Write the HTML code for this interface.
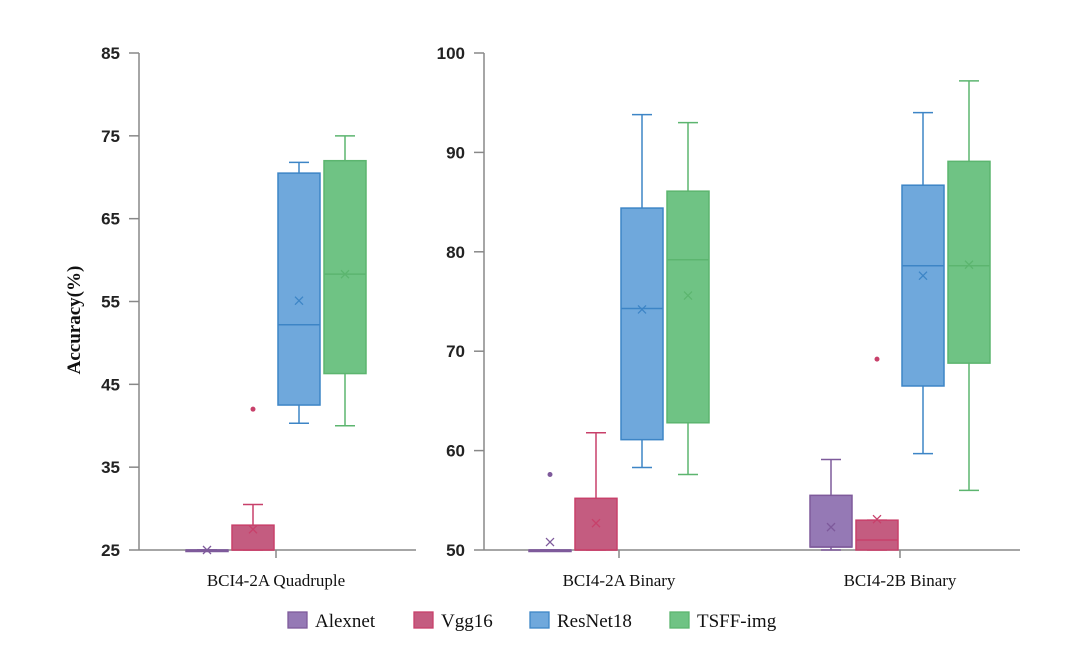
<!DOCTYPE html>
<html><head><meta charset="utf-8">
<style>
html,body{margin:0;padding:0;background:#fff;}
svg{display:block;font-family:"Liberation Serif",serif;}
</style></head>
<body>
<svg id="chart" width="1080" height="647" viewBox="0 0 1080 647"></svg>
<script>
const models = ["Alexnet","Vgg16","ResNet18","TSFF-img"];
const fills = ["#9579b5","#c45c80","#6fa8dc","#6fc384"];
const strokes = ["#7e5a9b","#c8406a","#3d85c6","#5cb56f"];
const leftCategories = ["BCI4-2A Quadruple"];
const rightCategories = ["BCI4-2A Binary","BCI4-2B Binary"];
const leftTicks = [25,35,45,55,65,75,85];
const rightTicks = [50,60,70,80,90,100];
// [min, q1, median, q3, max, mean]
const leftStats = [
 [[25,25,25,25,25,25],[25,25,25,28,30.5,27.5],[40.3,42.5,52.2,70.5,71.8,55.1],[40,46.3,58.3,72,75,58.3]]
];
const leftOutliers = [[[],[42],[],[]]];
const rightStats = [
 [[50,50,50,50,50,50.8],[50,50,50,55.2,61.8,52.7],[58.3,61.1,74.3,84.4,93.8,74.2],[57.6,62.8,79.2,86.1,93.0,75.6]],
 [[50,50.3,50.3,55.5,59.1,52.3],[50,50,51,53,53,53.1],[59.7,66.5,78.6,86.7,94,77.6],[56,68.8,78.6,89.1,97.2,78.7]]
];
const rightOutliers = [[[57.6],[],[],[]],[[],[69.2],[],[]]];

const svg = document.getElementById('chart');
const NS = "http://www.w3.org/2000/svg";
function mk(tag, attrs, parent){const e=document.createElementNS(NS,tag);for(const k in attrs)e.setAttribute(k,attrs[k]);(parent||svg).appendChild(e);return e;}

const yTop=53, yBot=550;
function yLeft(v){return yBot-(v-25)/(85-25)*(yBot-yTop);}
function yRight(v){return yBot-(v-50)/(100-50)*(yBot-yTop);}

function drawPanel(axisX, xEnd, cats, centers, ticks, yf, stats, outliers, name){
  const g = mk('g',{});
  
  
  const ax = mk('line',{x1:axisX,y1:yTop,x2:axisX,y2:yBot,stroke:'#888','stroke-width':1.5},g);
  
  
  const bx = mk('line',{x1:axisX,y1:yBot,x2:xEnd,y2:yBot,stroke:'#888','stroke-width':1.5},g);
  
  
  ticks.forEach(t=>{
    const y=yf(t);
    mk('line',{x1:axisX-10,y1:y,x2:axisX,y2:y,stroke:'#888','stroke-width':1.5},g);
    const tx = mk('text',{x:axisX-19,y:y+6,'text-anchor':'end','font-size':17,'font-weight':'bold','font-family':'"Liberation Sans",sans-serif',fill:'#222'},g);
    tx.textContent=t;
    
    
  });
  cats.forEach((c,ci)=>{
    const cx=centers[ci];
    mk('line',{x1:cx,y1:yBot,x2:cx,y2:yBot+8,stroke:'#888','stroke-width':1.5},g);
    const lab = mk('text',{x:cx,y:yBot+36,'text-anchor':'middle','font-size':17,fill:'#111'},g);
    lab.textContent=c;
    
    
    stats[ci].forEach((s,mi)=>{
      const bxc = cx-69+mi*46, w=42;
      const bg = mk('g',{},g);
      
      
      const [mn,q1,md,q3,mx,mean]=s;
      mk('line',{x1:bxc,y1:yf(q3),x2:bxc,y2:yf(mx),stroke:strokes[mi],'stroke-width':1.5},bg);
      mk('line',{x1:bxc,y1:yf(q1),x2:bxc,y2:yf(mn),stroke:strokes[mi],'stroke-width':1.5},bg);
      mk('line',{x1:bxc-10,y1:yf(mx),x2:bxc+10,y2:yf(mx),stroke:strokes[mi],'stroke-width':1.5},bg);
      mk('line',{x1:bxc-10,y1:yf(mn),x2:bxc+10,y2:yf(mn),stroke:strokes[mi],'stroke-width':1.5},bg);
      const h=Math.max(yf(q1)-yf(q3),1.5);
      mk('rect',{x:bxc-w/2,y:yf(q3),width:w,height:h,fill:fills[mi],stroke:strokes[mi],'stroke-width':1.5},bg);
      mk('line',{x1:bxc-w/2,y1:yf(md),x2:bxc+w/2,y2:yf(md),stroke:strokes[mi],'stroke-width':1.5},bg);
      const my=yf(mean);
      mk('path',{d:`M${bxc-4},${my-4}L${bxc+4},${my+4}M${bxc-4},${my+4}L${bxc+4},${my-4}`,stroke:strokes[mi],'stroke-width':1.3,fill:'none'},bg);
      outliers[ci][mi].forEach(o=>{
        const oc = mk('circle',{cx:bxc,cy:yf(o),r:2.5,fill:strokes[mi]},bg);
        
        
      });
    });
  });
}
drawPanel(139, 416, leftCategories, [276], leftTicks, yLeft, leftStats, leftOutliers, 'left-panel');
drawPanel(484, 1020, rightCategories, [619,900], rightTicks, yRight, rightStats, rightOutliers, 'right-panel');

const yt = mk('text',{x:0,y:0,transform:'translate(80,320) rotate(-90)','text-anchor':'middle','font-size':19,'font-weight':'bold',fill:'#111'});
yt.textContent='Accuracy(%)';



const legX=[288,414,530,670];
models.forEach((m,i)=>{
  const lg = mk('g',{});
  
  
  mk('rect',{x:legX[i],y:612,width:19,height:16,fill:fills[i],stroke:strokes[i],'stroke-width':1.3},lg);
  const t = mk('text',{x:legX[i]+27,y:627,'font-size':19,fill:'#111'},lg);
  t.textContent=m;
});
</script>
</body></html>
